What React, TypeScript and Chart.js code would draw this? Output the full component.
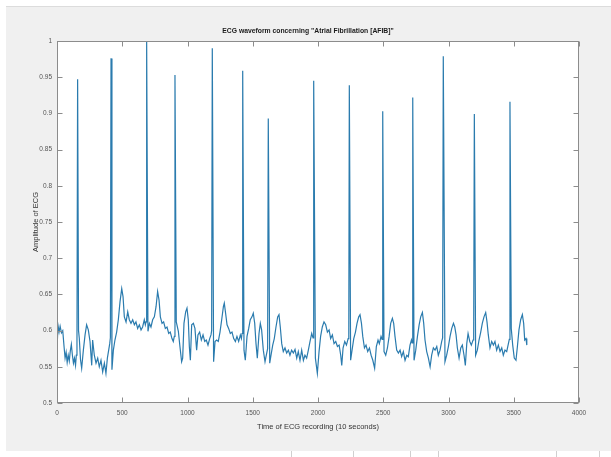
import React, { useEffect, useRef } from "react";
import { Chart, registerables } from "chart.js";

Chart.register(...registerables);

const chartTitle = 'ECG waveform concerning "Atrial Fibrillation [AFIB]"';
const xAxisTitle = "Time of ECG recording (10 seconds)";
const yAxisTitle = "Amplitude of ECG";

const xTickValues = [0, 500, 1000, 1500, 2000, 2500, 3000, 3500, 4000];
const xTickLabels = ["0", "500", "1000", "1500", "2000", "2500", "3000", "3500", "4000"];
const yTickValues = [0.5, 0.55, 0.6, 0.65, 0.7, 0.75, 0.8, 0.85, 0.9, 0.95, 1];
const yTickLabels = ["0.5", "0.55", "0.6", "0.65", "0.7", "0.75", "0.8", "0.85", "0.9", "0.95", "1"];

// sample index (360 Hz, 10 s)
const ecgTime = [
  0, 8, 16, 24, 34, 44, 54, 62, 70, 78, 86, 94, 102, 110, 118, 126, 134, 142, 148, 153,
  158, 165, 171, 180, 189, 202, 215, 227, 240, 253, 266, 273, 286, 299, 312, 324, 337, 350, 363, 375,
  386, 396, 404, 409, 414, 421, 432, 444, 457, 470, 483, 496, 506, 516, 529, 542, 554, 567, 580, 593,
  605, 618, 631, 644, 656, 669, 677, 682, 687, 697, 708, 720, 733, 746, 759, 771, 782, 792, 805, 817,
  830, 843, 856, 868, 881, 891, 899, 904, 914, 930, 942, 955, 963, 973, 986, 996, 1006, 1014, 1022, 1032,
  1045, 1057, 1070, 1080, 1093, 1106, 1119, 1132, 1144, 1157, 1170, 1180, 1185, 1190, 1200, 1211, 1223, 1236, 1249, 1262,
  1275, 1282, 1292, 1303, 1315, 1328, 1341, 1354, 1367, 1379, 1392, 1405, 1413, 1418, 1423, 1433, 1443, 1456, 1469, 1481,
  1494, 1504, 1515, 1525, 1535, 1548, 1558, 1568, 1581, 1594, 1607, 1614, 1619, 1630, 1640, 1653, 1665, 1678, 1691, 1701,
  1711, 1722, 1734, 1747, 1760, 1773, 1785, 1798, 1811, 1824, 1837, 1849, 1862, 1875, 1888, 1900, 1913, 1926, 1939, 1952,
  1962, 1967, 1980, 1995, 2008, 2020, 2033, 2046, 2059, 2072, 2085, 2097, 2110, 2123, 2136, 2149, 2162, 2174, 2182, 2192,
  2205, 2218, 2231, 2236, 2240, 2250, 2261, 2274, 2287, 2299, 2312, 2322, 2333, 2343, 2356, 2368, 2381, 2394, 2407, 2420,
  2434, 2447, 2460, 2470, 2483, 2491, 2496, 2506, 2519, 2532, 2545, 2557, 2570, 2580, 2590, 2603, 2616, 2629, 2641, 2654,
  2667, 2680, 2692, 2705, 2716, 2721, 2726, 2736, 2749, 2762, 2775, 2787, 2800, 2810, 2820, 2833, 2846, 2859, 2871, 2884,
  2897, 2910, 2922, 2935, 2948, 2955, 2960, 2973, 2986, 2999, 3012, 3025, 3038, 3048, 3058, 3068, 3081, 3094, 3106, 3119,
  3129, 3140, 3150, 3163, 3175, 3188, 3193, 3198, 3208, 3221, 3234, 3247, 3259, 3272, 3285, 3295, 3305, 3318, 3331, 3344,
  3356, 3369, 3382, 3395, 3408, 3420, 3433, 3446, 3459, 3466, 3471, 3481, 3492, 3504, 3517, 3528, 3540, 3553, 3566, 3576,
  3584, 3594, 3600,
];

const ecgAmplitude = [
  0.575, 0.607, 0.598, 0.606, 0.597, 0.6, 0.578, 0.562, 0.57, 0.556, 0.566, 0.558, 0.572, 0.581, 0.566, 0.555, 0.562, 0.552, 0.566, 0.585,
  0.947, 0.6, 0.589, 0.56, 0.548, 0.573, 0.594, 0.608, 0.601, 0.585, 0.552, 0.587, 0.566, 0.555, 0.562, 0.55, 0.559, 0.543, 0.555, 0.541,
  0.562, 0.573, 0.582, 0.59, 0.976, 0.546, 0.573, 0.587, 0.598, 0.615, 0.64, 0.658, 0.647, 0.619, 0.612, 0.626, 0.615, 0.61, 0.615, 0.608,
  0.612, 0.603, 0.608, 0.601, 0.605, 0.615, 0.608, 0.612, 1.0, 0.599, 0.61, 0.605, 0.615, 0.619, 0.633, 0.654, 0.642, 0.619, 0.61, 0.612,
  0.603, 0.605, 0.596, 0.598, 0.589, 0.585, 0.592, 0.953, 0.612, 0.599, 0.578, 0.557, 0.562, 0.61, 0.626, 0.631, 0.615, 0.578, 0.559, 0.608,
  0.61, 0.603, 0.573, 0.594, 0.598, 0.587, 0.594, 0.585, 0.587, 0.58, 0.589, 0.594, 0.6, 0.99, 0.557, 0.585, 0.587, 0.585, 0.598, 0.615,
  0.633, 0.638, 0.624, 0.608, 0.603, 0.596, 0.598, 0.589, 0.585, 0.592, 0.585, 0.594, 0.589, 0.596, 0.959, 0.573, 0.559, 0.592, 0.603, 0.615,
  0.619, 0.624, 0.61, 0.582, 0.562, 0.596, 0.61, 0.601, 0.573, 0.557, 0.569, 0.575, 0.893, 0.555, 0.566, 0.58, 0.589, 0.605, 0.619, 0.622,
  0.605, 0.582, 0.571, 0.576, 0.569, 0.573, 0.566, 0.573, 0.569, 0.574, 0.562, 0.571, 0.559, 0.573, 0.559, 0.566, 0.562, 0.573, 0.585, 0.596,
  0.59, 0.945, 0.562, 0.541, 0.571, 0.592, 0.605, 0.612, 0.608, 0.598, 0.601, 0.589, 0.594, 0.582, 0.585, 0.578, 0.58, 0.566, 0.552, 0.576,
  0.585, 0.58, 0.589, 0.594, 0.939, 0.559, 0.573, 0.589, 0.598, 0.61, 0.619, 0.622, 0.61, 0.592, 0.576, 0.58, 0.571, 0.576, 0.566, 0.559,
  0.548, 0.578, 0.587, 0.582, 0.592, 0.588, 0.903, 0.571, 0.566, 0.576, 0.592, 0.61, 0.617, 0.61, 0.592, 0.573, 0.569, 0.573, 0.564, 0.571,
  0.559, 0.566, 0.564, 0.58, 0.587, 0.583, 0.922, 0.559, 0.573, 0.592, 0.608, 0.619, 0.625, 0.61, 0.587, 0.571, 0.562, 0.55, 0.566, 0.576,
  0.573, 0.578, 0.566, 0.573, 0.585, 0.59, 0.979, 0.557, 0.566, 0.578, 0.592, 0.603, 0.61, 0.605, 0.594, 0.576, 0.562, 0.576, 0.58, 0.566,
  0.552, 0.582, 0.596, 0.585, 0.58, 0.587, 0.592, 0.899, 0.566, 0.573, 0.587, 0.598, 0.61, 0.619, 0.625, 0.612, 0.594, 0.576, 0.585, 0.58,
  0.585, 0.573, 0.58, 0.571, 0.576, 0.566, 0.573, 0.571, 0.582, 0.588, 0.916, 0.603, 0.58, 0.562, 0.559, 0.578, 0.601, 0.615, 0.622, 0.61,
  0.587, 0.589, 0.58,
];

const sansFont = "'Liberation Sans', Arial, sans-serif";

export default function App() {
  const ref = useRef<HTMLCanvasElement>(null);

  useEffect(() => {
    document.body.style.margin = "0";
    const canvas = ref.current;
    if (!canvas) return;

    const figureBg = {
      id: "figureBg",
      beforeDraw(chart: any) {
        const { ctx, width, height, chartArea: a } = chart;
        ctx.save();
        ctx.fillStyle = "#ffffff";
        ctx.fillRect(0, 0, width, height);
        ctx.fillStyle = "#f0f0f0";
        ctx.fillRect(6, 6, width - 6, 445);
        ctx.fillStyle = "#dcdcdc";
        ctx.fillRect(6, 6, width - 6, 1);
        ctx.strokeStyle = "#d0d0d0";
        ctx.lineWidth = 1;
        [291, 353, 410, 438, 556, 599].forEach((px) => {
          ctx.beginPath();
          ctx.moveTo(px + 0.5, 451);
          ctx.lineTo(px + 0.5, height);
          ctx.stroke();
        });
        ctx.fillStyle = "#ffffff";
        ctx.fillRect(a.left, a.top, a.right - a.left, a.bottom - a.top);
        ctx.restore();
      },
    };

    const boxTicks = {
      id: "boxTicks",
      afterDatasetsDraw(chart: any) {
        const { ctx, chartArea: a, scales } = chart;
        const xs = scales.x;
        const ys = scales.y;
        const L = Math.round(a.left) + 0.5;
        const R = Math.round(a.right) - 0.5;
        const T = Math.round(a.top) + 0.5;
        const B = Math.round(a.bottom) - 0.5;
        const len = 5;
        ctx.save();
        ctx.strokeStyle = "#8c8c8c";
        ctx.lineWidth = 1;
        ctx.strokeRect(L, T, R - L, B - T);
        ctx.beginPath();
        xTickValues.forEach((v) => {
          const px = Math.round(xs.getPixelForValue(v)) + 0.5;
          ctx.moveTo(px, B);
          ctx.lineTo(px, B - len);
          ctx.moveTo(px, T);
          ctx.lineTo(px, T + len);
        });
        yTickValues.forEach((v) => {
          const py = Math.round(ys.getPixelForValue(v)) + 0.5;
          ctx.moveTo(L, py);
          ctx.lineTo(L + len, py);
          ctx.moveTo(R, py);
          ctx.lineTo(R - len, py);
        });
        ctx.stroke();
        ctx.restore();
      },
    };

    const chart = new Chart(canvas, {
      type: "line",
      data: {
        datasets: [
          {
            data: ecgTime.map((t, i) => ({ x: t, y: ecgAmplitude[i] })),
            borderColor: "#2a7bae",
            borderWidth: 1.2,
            pointRadius: 0,
            tension: 0,
            fill: false,
          },
        ],
      },
      options: {
        animation: false,
        responsive: false,
        devicePixelRatio: 1,
        layout: { padding: { top: 0, left: 37, right: 32, bottom: 0 } },
        plugins: {
          legend: { display: false },
          tooltip: { enabled: false },
          title: {
            display: true,
            text: chartTitle,
            color: "#1a1a1a",
            font: { family: sansFont, size: 6.8, weight: "bold", lineHeight: 1.2 },
            padding: { top: 26.9, bottom: 5.94 },
          },
        },
        scales: {
          x: {
            type: "linear",
            min: 0,
            max: 4000,
            afterBuildTicks: (scale: any) => {
              scale.ticks = xTickValues.map((v) => ({ value: v }));
            },
            afterFit: (scale: any) => {
              scale.height = 54;
            },
            grid: { display: false, drawTicks: false },
            border: { display: false },
            ticks: {
              color: "#555555",
              font: { family: sansFont, size: 6.5 },
              padding: 6,
              maxRotation: 0,
              autoSkip: false,
              callback: (v: any) => xTickLabels[xTickValues.indexOf(Number(v))],
            },
            title: {
              display: true,
              text: xAxisTitle,
              color: "#333333",
              font: { family: sansFont, size: 7.5, lineHeight: 1.2 },
              padding: { top: 0, bottom: 25.5 },
            },
          },
          y: {
            type: "linear",
            min: 0.5,
            max: 1,
            afterBuildTicks: (scale: any) => {
              scale.ticks = yTickValues.map((v) => ({ value: v }));
            },
            afterFit: (scale: any) => {
              scale.width = 20;
            },
            grid: { display: false, drawTicks: false },
            border: { display: false },
            ticks: {
              color: "#555555",
              font: { family: sansFont, size: 6.5 },
              padding: 5,
              autoSkip: false,
              callback: (v: any) => yTickLabels[yTickValues.indexOf(Number(v))],
            },
            title: {
              display: true,
              text: yAxisTitle,
              color: "#333333",
              font: { family: sansFont, size: 7.5, lineHeight: 1.2 },
              padding: { top: -6, bottom: 0 },
            },
          },
        },
      },
      plugins: [figureBg, boxTicks],
    });

    return () => chart.destroy();
  }, []);

  return (
    <canvas
      ref={ref}
      width={611}
      height={457}
      style={{ display: "block", width: "611px", height: "457px" }}
    />
  );
}
